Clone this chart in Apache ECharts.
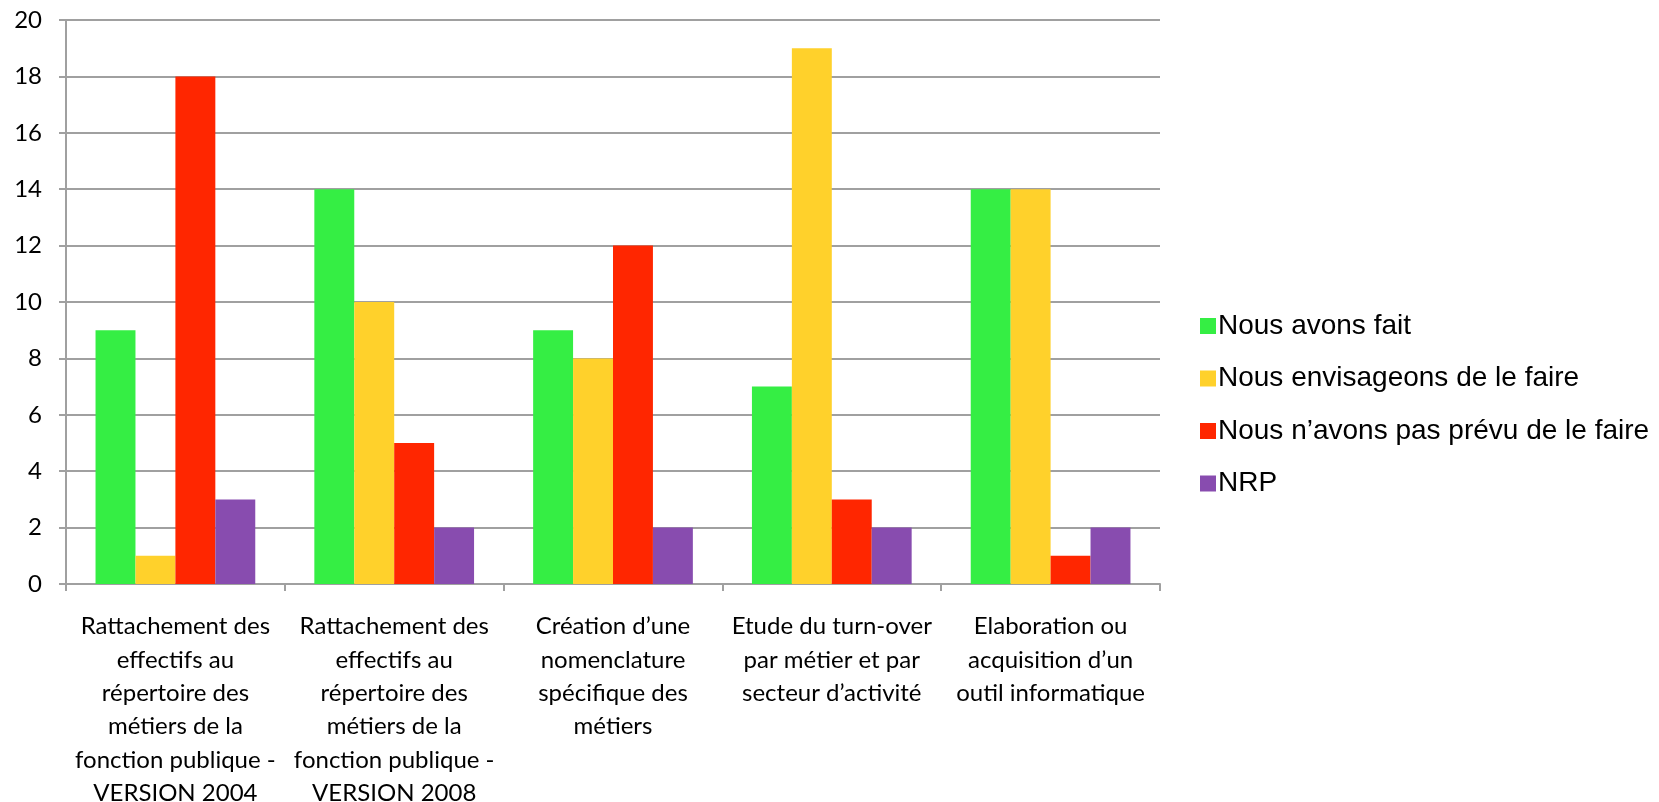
<!DOCTYPE html>
<html>
<head>
<meta charset="utf-8">
<script src="https://cdn.jsdelivr.net/npm/echarts@6/dist/echarts.min.js"></script>
<style>
  html, body { margin: 0; padding: 0; background: #fff; }
  #chart { width: 1659px; height: 802px; }
</style>
</head>
<body>
<div id="chart"></div>
<script>
// Categories (axis labels, with their line breaks)
const categories = [
  'Rattachement des\neffectifs au\nrépertoire des\nmétiers de la\nfonction publique -\nVERSION 2004',
  'Rattachement des\neffectifs au\nrépertoire des\nmétiers de la\nfonction publique -\nVERSION 2008',
  'Création d’une\nnomenclature\nspécifique des\nmétiers',
  'Etude du turn-over\npar métier et par\nsecteur d’activité',
  'Elaboration ou\nacquisition d’un\noutil informatique'
];

// Series names and values
const seriesNames = [
  'Nous avons fait',
  'Nous envisageons de le faire',
  'Nous n’avons pas prévu de le faire',
  'NRP'
];
const nousAvonsFait = [9, 14, 9, 7, 14];
const nousEnvisageons = [1, 10, 8, 19, 14];
const pasPrevu = [18, 5, 12, 3, 1];
const nrp = [3, 2, 2, 2, 2];

const colors = ['#35EE44', '#FFD12B', '#FF2600', '#884CAF'];
const values = [nousAvonsFait, nousEnvisageons, pasPrevu, nrp];

const axisFont = '"Lato", "DejaVu Sans", sans-serif';
const gridGray = '#A0A0A0';

const chart = echarts.init(document.getElementById('chart'), null, { renderer: 'canvas' });

chart.setOption({
  animation: false,
  backgroundColor: '#ffffff',
  color: colors,
  grid: {
    left: 66, top: 20, right: 499, bottom: 218,
    containLabel: false,
    outerBoundsMode: 'none'
  },
  legend: {
    orient: 'vertical',
    left: 1195,
    top: 307,
    itemWidth: 16,
    itemHeight: 16,
    itemGap: 24.5,
    icon: 'rect',
    data: seriesNames,
    textStyle: {
      fontFamily: '"Liberation Sans", Arial, sans-serif',
      fontSize: 28,
      color: '#000',
      lineHeight: 28,
      padding: [0, 0, 0, -3]
    }
  },
  xAxis: {
    type: 'category',
    data: categories,
    axisLine: { show: true, lineStyle: { color: gridGray, width: 2 } },
    axisTick: { show: true, length: 7, lineStyle: { color: gridGray, width: 2 } },
    axisLabel: {
      interval: 0,
      margin: 26,
      color: '#000',
      fontFamily: axisFont,
      fontSize: 24,
      lineHeight: 33.3
    }
  },
  yAxis: {
    type: 'value',
    min: 0,
    max: 20,
    interval: 2,
    axisLine: { show: true, lineStyle: { color: gridGray, width: 2 } },
    axisTick: { show: true, length: 7, lineStyle: { color: gridGray, width: 2 } },
    splitLine: { show: true, lineStyle: { color: gridGray, width: 2 } },
    axisLabel: {
      margin: 24,
      color: '#000',
      fontFamily: axisFont,
      fontSize: 24
    }
  },
  series: seriesNames.map((name, i) => ({
    name: name,
    type: 'bar',
    data: values[i],
    barGap: '0%',
    barCategoryGap: '27%',
    itemStyle: { color: colors[i] }
  }))
});
</script>
</body>
</html>
